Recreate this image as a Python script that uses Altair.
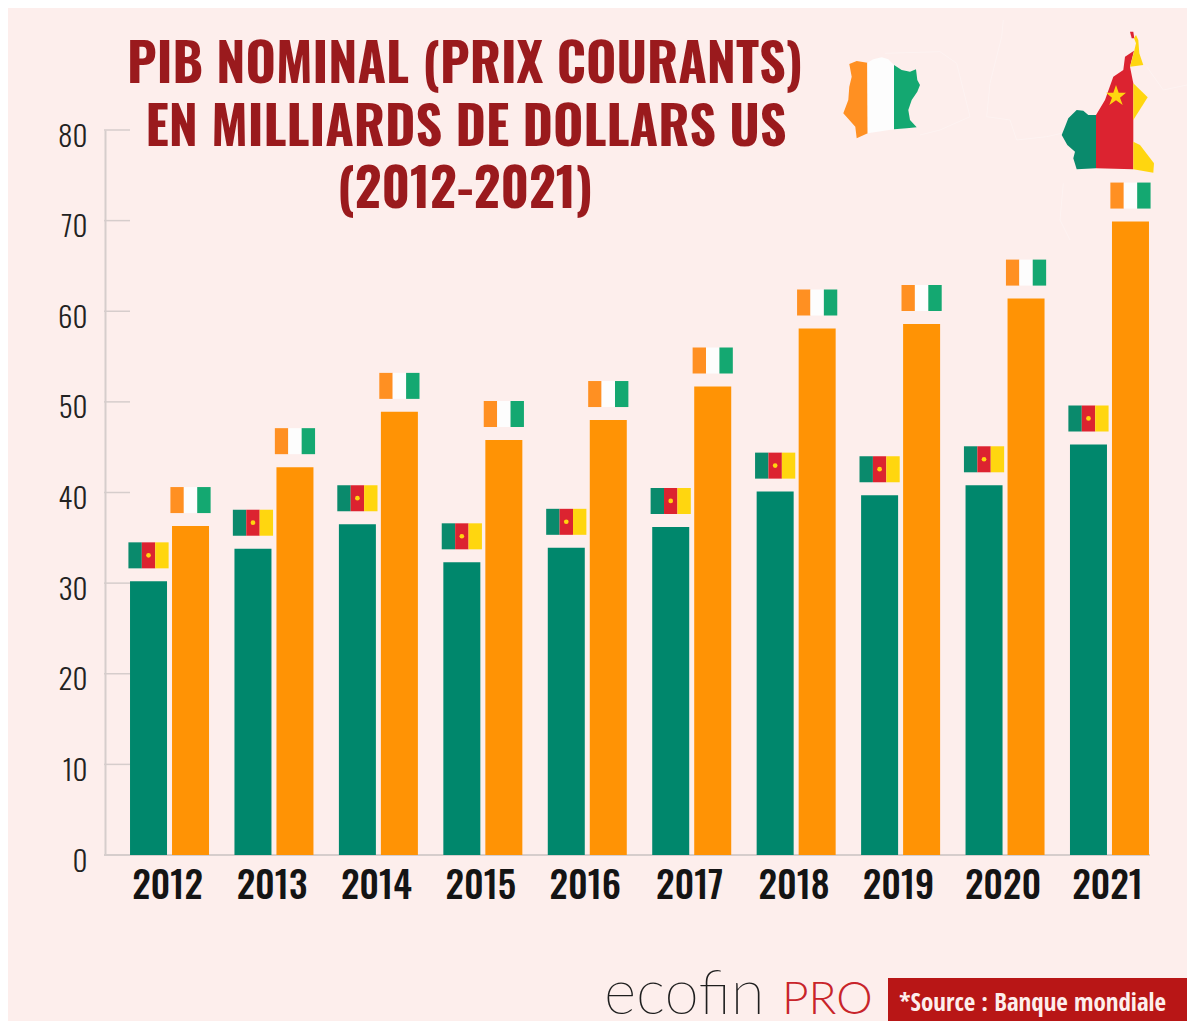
import altair as alt
import pandas as pd

# ---------- data ----------
years = ["2012", "2013", "2014", "2015", "2016", "2017", "2018", "2019", "2020", "2021"]
cameroun = [30.2, 33.8, 36.5, 32.3, 33.9, 36.2, 40.1, 39.7, 40.8, 45.3]
cote_ivoire = [36.3, 42.8, 48.9, 45.8, 48.0, 51.7, 58.1, 58.6, 61.4, 69.9]
y_ticks = [0, 10, 20, 30, 40, 50, 60, 70, 80]
title_lines = ["PIB NOMINAL (PRIX COURANTS)", "EN MILLIARDS DE DOLLARS US", "(2012-2021)"]
source_text = "*Source : Banque mondiale"

# ---------- style ----------
BG = "#fdeeec"
GREEN = "#00876c"
ORANGE = "#ff9305"
CI_ORANGE = "#ff9022"
CI_WHITE = "#fdfdfd"
CI_GREEN = "#14a871"
CM_GREEN = "#0a8a6c"
CM_RED = "#dc2330"
CM_YELLOW = "#ffd60f"
AXIS = "#d6cdcc"
COND = "Oswald"

# plot origin in the page
X0, Y0 = 105, 130
PW, PH = 1045, 725

df = pd.DataFrame({"year": years, "cm": cameroun, "ci": cote_ivoire})
x_enc = alt.X(
    "year:N",
    sort=years,
    scale=alt.Scale(range=[12.3, 1056.7]),
    axis=alt.Axis(
        title=None, labelAngle=0, domain=False, ticks=False, labelFont=COND,
        labelFontSize=37, labelFontWeight=500, labelColor="#141414",
        labelPadding=14, labelBaseline="top", labelOffset=-2,
    ),
)
y_scale = alt.Scale(domain=[0, 80], nice=False, range=[PH, 0])
y_axis = alt.Axis(
    title=None, values=y_ticks, grid=False, ticks=False, domain=True, domainColor=AXIS,
    domainWidth=2, labelFont=COND, labelFontSize=29, labelFontWeight=300, labelColor="#222222",
    labelPadding=18, labelOffset=7,
)


def px(x):
    return x - X0


def py(y):
    return y - Y0


def one():
    return alt.Data(values=[{"k": 0}])


def zoom_path(points):
    # points are read in the zoomed crop of the maps (3x, origin 830,20)
    coords = [(830 + a / 3 - X0, 20 + b / 3 - Y0) for a, b in points]
    return "M" + "L".join(f"{a:.1f},{b:.1f}" for a, b in coords)


def shape_layer(points, color):
    return (
        alt.Chart(one())
        .mark_point(shape=zoom_path(points) + "Z", size=4, filled=True, color=color, opacity=1, strokeWidth=0)
        .encode(x=alt.value(0), y=alt.value(0))
    )


def outline_layer(points):
    return (
        alt.Chart(one())
        .mark_point(shape=zoom_path(points), size=4, filled=False, color="#ffffff", opacity=0.3, strokeWidth=1)
        .encode(x=alt.value(0), y=alt.value(0))
    )


def text_layer(text, x, y, size, color, font=COND, weight="bold", align="center"):
    return (
        alt.Chart(one())
        .mark_text(text=text, font=font, fontSize=size, fontWeight=weight, color=color, align=align, baseline="alphabetic")
        .encode(x=alt.value(px(x)), y=alt.value(py(y)))
    )


def bar_layer(field, color, offset):
    return alt.Chart(df).mark_bar(width=37, xOffset=offset, color=color).encode(
        x=x_enc, y=alt.Y(f"{field}:Q", scale=y_scale, axis=y_axis)
    )


def stripe_layer(field, color, offset):
    return (
        alt.Chart(df)
        .transform_calculate(b=f"datum.{field} + 1.43", t=f"datum.{field} + 4.3")
        .mark_bar(width=13.4, xOffset=offset, color=color)
        .encode(x=x_enc, y=alt.Y("t:Q", scale=y_scale, axis=y_axis), y2="b:Q")
    )


# ---------- maps ----------
outlines = [
    [(165, 100), (330, 95), (380, 130), (400, 210), (420, 290), (330, 330), (270, 345)],
    [(480, 190), (515, 50), (520, 0)],
    [(480, 190), (470, 290), (540, 300), (560, 360), (650, 350), (695, 340)],
    [(950, 140), (1000, 210), (1095, 190)],
    [(700, 490), (690, 600), (720, 660)],
]
ci_orange_map = [(58, 132), (80, 123), (112, 128), (113, 340), (80, 355), (76, 320), (40, 280), (55, 240), (58, 200), (65, 170)]
ci_white_map = [(112, 128), (130, 118), (155, 112), (175, 118), (192, 135), (192, 328), (113, 340)]
ci_green_map = [(192, 135), (215, 150), (240, 155), (258, 148), (262, 180), (270, 195), (262, 215), (245, 240), (235, 270), (240, 300), (260, 322), (230, 325), (192, 328)]
cm_green_map = [(798, 285), (775, 285), (760, 272), (740, 270), (715, 295), (705, 320), (695, 345), (712, 375), (735, 395), (730, 415), (740, 448), (798, 445)]
cm_red_map = [(798, 285), (825, 240), (850, 170), (880, 150), (885, 110), (912, 92), (900, 140), (910, 190), (910, 448), (798, 445)]
cm_red_tip = [(900, 35), (910, 35), (913, 55), (905, 55)]
cm_yellow_top = [(912, 55), (918, 45), (925, 60), (928, 100), (940, 135), (900, 140), (912, 95), (918, 70)]
cm_yellow_mid = [(910, 190), (953, 232), (910, 300)]
cm_yellow_low = [(910, 365), (930, 375), (972, 430), (970, 458), (910, 448)]
cm_star = [(858, 195), (866, 218), (888, 218), (870, 233), (878, 255), (858, 241), (838, 255), (846, 233), (828, 218), (850, 218)]

# ---------- layers ----------
background_layers = [outline_layer(p) for p in outlines]

tick_layer = (
    alt.Chart(pd.DataFrame({"t": [v for v in y_ticks if v > 0]}))
    .mark_rule(color=AXIS, strokeWidth=1.5)
    .encode(x=alt.value(-1), x2=alt.value(25), y=alt.Y("t:Q", scale=y_scale, axis=y_axis))
)
baseline = (
    alt.Chart(pd.DataFrame({"t": [0]}))
    .mark_rule(color=AXIS, strokeWidth=2)
    .encode(x=alt.value(-1), x2=alt.value(PW), y=alt.Y("t:Q", scale=y_scale, axis=y_axis))
)

bars = [bar_layer("cm", GREEN, -21), bar_layer("ci", ORANGE, 21)]
flags = [
    stripe_layer("cm", CM_GREEN, -34.4),
    stripe_layer("cm", CM_RED, -21),
    stripe_layer("cm", CM_YELLOW, -7.6),
    stripe_layer("ci", CI_ORANGE, 7.6),
    stripe_layer("ci", CI_WHITE, 21),
    stripe_layer("ci", CI_GREEN, 34.4),
]
flag_stars = (
    alt.Chart(df)
    .transform_calculate(m="datum.cm + 2.87")
    .mark_point(shape="circle", size=22, filled=True, color=CM_YELLOW, opacity=1, xOffset=-21)
    .encode(x=x_enc, y=alt.Y("m:Q", scale=y_scale, axis=y_axis))
)

maps = [
    shape_layer(ci_orange_map, CI_ORANGE),
    shape_layer(ci_white_map, CI_WHITE),
    shape_layer(ci_green_map, CI_GREEN),
    shape_layer(cm_green_map, CM_GREEN),
    shape_layer(cm_red_map, CM_RED),
    shape_layer(cm_red_tip, CM_RED),
    shape_layer(cm_yellow_top, CM_YELLOW),
    shape_layer(cm_yellow_mid, CM_YELLOW),
    shape_layer(cm_yellow_low, CM_YELLOW),
    shape_layer(cm_star, CM_YELLOW),
]

titles = [
    text_layer(title_lines[0], 465, 83, 52, "#9a1a1d"),
    text_layer(title_lines[1], 466, 146, 52, "#9a1a1d"),
    text_layer(title_lines[2], 465, 208, 52, "#9a1a1d"),
]

source_box = (
    alt.Chart(one())
    .mark_rect(color="#b81616")
    .encode(x=alt.value(px(888)), x2=alt.value(px(1187)), y=alt.value(py(978)), y2=alt.value(py(1021)))
)
footer = [
    text_layer("ecofin", 604, 1014, 62, "#1e1e1e", font="Lato Thin", weight=400, align="left"),
    text_layer("PRO", 782, 1014, 46, "#c8242a", font="Lato Light", weight=400, align="left"),
    source_box,
    text_layer(source_text, 899, 1011, 25, "#fdeeec", font="Open Sans Condensed", align="left"),
]

chart = (
    alt.layer(*background_layers, tick_layer, baseline, *bars, *flags, flag_stars, *maps, *titles, *footer)
    .properties(
        width=PW,
        height=PH,
        background=BG,
        autosize=alt.AutoSizeParams(type="none"),
        padding={"left": X0 - 8, "top": Y0 - 8, "right": 1187 - X0 - PW, "bottom": 1021 - Y0 - PH},
    )
    .configure_view(stroke=None)
)

chart.save("out.html", embed_options={"renderer": "svg", "actions": False})
